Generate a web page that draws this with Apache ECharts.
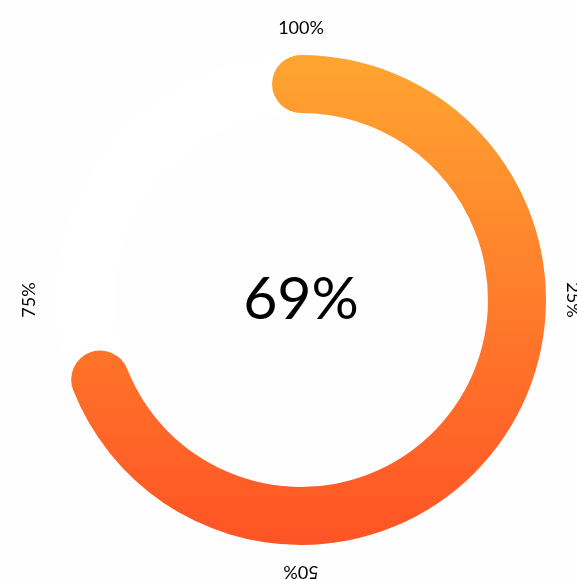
<!DOCTYPE html>
<html>
<head>
<meta charset="utf-8">
<script src="https://cdn.jsdelivr.net/npm/echarts@6/dist/echarts.min.js"></script>
<style>
  html, body { margin: 0; padding: 0; background: #fefefe; }
  #main { width: 577px; height: 579px; }
</style>
</head>
<body>
<div id="main"></div>
<script>
var chartDom = document.getElementById('main');
var myChart = echarts.init(chartDom, null, { renderer: 'canvas' });

// values
var gaugeValue = [69];
var tickValues = [0, 25, 50, 75, 100];
var gradientColors = ['#ffa531', '#ff5325'];

var option = {
    backgroundColor: '#fefefe',
    series: [
        {
            type: 'gauge',
            center: [301, 300],
            radius: 245,
            startAngle: 90,
            endAngle: -270,
            min: tickValues[0],
            max: tickValues[tickValues.length - 1],
            splitNumber: tickValues.length - 1,
            pointer: { show: false },
            progress: {
                show: true,
                roundCap: true,
                width: 58,
                itemStyle: {
                    color: new echarts.graphic.LinearGradient(0, 0, 0, 1, [
                        { offset: 0, color: gradientColors[0] },
                        { offset: 1, color: gradientColors[1] }
                    ])
                }
            },
            axisLine: {
                lineStyle: { width: 58, color: [[1, '#ffffff']] }
            },
            axisTick: { show: false },
            splitLine: { show: false, length: 0, distance: 0 },
            axisLabel: {
                distance: -27,
                rotate: 'tangential',
                color: '#000',
                fontFamily: 'Lato',
                fontSize: 18,
                formatter: function (v) {
                    return v === 0 ? '' : v + '%';
                }
            },
            title: { show: false },
            detail: {
                valueAnimation: false,
                offsetCenter: [0, 0],
                formatter: '{value}%',
                color: '#000',
                fontFamily: 'Lato',
                fontWeight: 'normal',
                fontSize: 59
            },
            animation: false,
            data: [{ value: gaugeValue[0] }]
        }
    ]
};
option && myChart.setOption(option);
</script>
</body>
</html>
